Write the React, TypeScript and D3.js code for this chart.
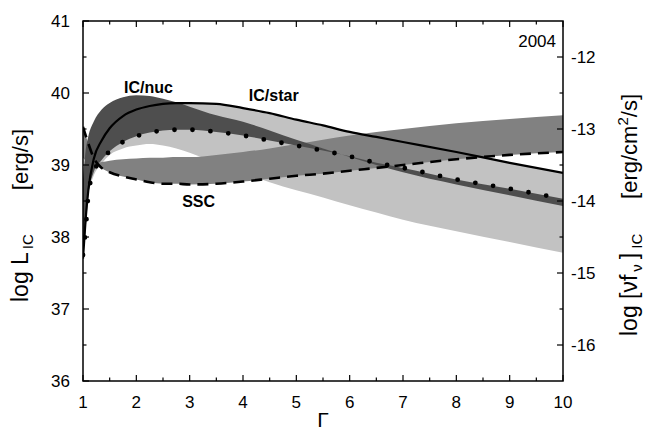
import React from "react";
import * as d3 from "d3";

// Lorentz factor grid
const gamma = [1, 1.05, 1.1, 1.2, 1.35, 1.5, 1.75, 2, 2.25, 2.5, 2.75, 3, 3.5, 4, 4.5, 5, 5.5, 6, 6.5, 7, 8, 9, 10];

// IC/star band (light): upper edge = solid line
const icStarLine = [37.7, 38.25, 38.65, 39.08, 39.34, 39.51, 39.68, 39.77, 39.82, 39.85, 39.86, 39.86, 39.85, 39.79, 39.72, 39.63, 39.55, 39.46, 39.39, 39.32, 39.18, 39.03, 38.89];
const icStarEdge = [38.2, 38.45, 38.62, 38.85, 39.02, 39.14, 39.23, 39.27, 39.29, 39.27, 39.23, 39.17, 39.03, 38.9, 38.76, 38.65, 38.55, 38.44, 38.34, 38.24, 38.08, 37.93, 37.78];

// SSC band (medium): one edge = dashed line
const sscLine = [39.53, 39.41, 39.3, 39.1, 38.96, 38.9, 38.84, 38.8, 38.76, 38.74, 38.74, 38.73, 38.74, 38.77, 38.81, 38.85, 38.88, 38.92, 38.96, 39.0, 39.08, 39.14, 39.18];
const sscEdge = [39.1, 39.06, 39.03, 39.02, 39.04, 39.06, 39.08, 39.09, 39.1, 39.1, 39.11, 39.11, 39.14, 39.18, 39.23, 39.29, 39.35, 39.41, 39.46, 39.5, 39.58, 39.64, 39.69];

// IC/nuc band (dark): one edge = dotted line
const icNucLine = [37.75, 38.1, 38.58, 38.9, 39.07, 39.19, 39.32, 39.4, 39.45, 39.48, 39.49, 39.49, 39.46, 39.41, 39.34, 39.27, 39.2, 39.12, 39.03, 38.96, 38.8, 38.67, 38.53];
const icNucEdge = [38.8, 39.2, 39.4, 39.6, 39.77, 39.86, 39.94, 39.97, 39.96, 39.92, 39.87, 39.81, 39.69, 39.6, 39.48, 39.35, 39.23, 39.11, 39.0, 38.9, 38.73, 38.58, 38.43];

const xTicks = [1, 2, 3, 4, 5, 6, 7, 8, 9, 10];
const xMinor = [1.5, 2.5, 3.5, 4.5, 5.5, 6.5, 7.5, 8.5, 9.5];
const leftTicks = [36, 37, 38, 39, 40, 41];
const leftMinor = [36.5, 37.5, 38.5, 39.5, 40.5];
const rightTicks = [-12, -13, -14, -15, -16];
const rightMinor = [-12.5, -13.5, -14.5, -15.5];

const labels = [
  { text: "IC/nuc", g: 1.77, v: 40.0 },
  { text: "IC/star", g: 4.11, v: 39.89 },
  { text: "SSC", g: 2.86, v: 38.42 },
];

const W = 645;
const H = 430;
const M = { left: 83, right: 563, top: 21, bottom: 381 };
const FONT = "'Liberation Sans', Arial, Helvetica, sans-serif";

export default function App() {
  const x = d3.scaleLinear().domain([1, 10]).range([M.left, M.right]);
  const y = d3.scaleLinear().domain([36, 41]).range([M.bottom, M.top]);
  const yR = d3.scaleLinear().domain([-16.5, -11.5]).range([M.bottom, M.top]);

  const band = (a: number[], b: number[]) =>
    d3
      .area<number>()
      .x((g) => x(g))
      .y0((_, i) => y(a[i]))
      .y1((_, i) => y(b[i]))
      .curve(d3.curveMonotoneX)(gamma) as string;

  const line = (a: number[]) =>
    d3
      .line<number>()
      .x((g) => x(g))
      .y((_, i) => y(a[i]))
      .curve(d3.curveMonotoneX)(gamma) as string;

  const major = 6;
  const minor = 3.5;
  const tickStyle = { stroke: "#000", strokeWidth: 1.2 };

  return (
    <svg
      width={W}
      height={H}
      style={{ position: "absolute", left: 0, top: 0, background: "#fff" }}
      fontFamily={FONT}
    >
      <defs>
        <clipPath id="plot">
          <rect x={M.left} y={M.top} width={M.right - M.left} height={M.bottom - M.top} />
        </clipPath>
      </defs>
      <g clipPath="url(#plot)">
        <path d={band(icStarLine, icStarEdge)} fill="#c2c2c2" />
        <path d={band(sscLine, sscEdge)} fill="#818181" />
        <path d={band(icNucLine, icNucEdge)} fill="#4e4e4e" />
        <path d={line(icStarLine)} fill="none" stroke="#000" strokeWidth={2.2} />
        <path
          d={line(sscLine)}
          fill="none"
          stroke="#000"
          strokeWidth={2.6}
          strokeDasharray="11 7"
        />
        <path
          d={line(icNucLine)}
          fill="none"
          stroke="#000"
          strokeWidth={4.8}
          strokeLinecap="round"
          strokeDasharray="0 18"
        />
      </g>

      {/* frame */}
      <rect
        x={M.left}
        y={M.top}
        width={M.right - M.left}
        height={M.bottom - M.top}
        fill="none"
        stroke="#000"
        strokeWidth={1.5}
      />

      {/* x ticks bottom & top */}
      {xTicks.map((t) => (
        <g key={"xt" + t}>
          <line x1={x(t)} x2={x(t)} y1={M.bottom} y2={M.bottom - major} {...tickStyle} />
          <line x1={x(t)} x2={x(t)} y1={M.top} y2={M.top + major} {...tickStyle} />
          <text x={x(t)} y={M.bottom + 27} textAnchor="middle" fontSize={17}>
            {t}
          </text>
        </g>
      ))}
      {xMinor.map((t) => (
        <g key={"xm" + t}>
          <line x1={x(t)} x2={x(t)} y1={M.bottom} y2={M.bottom - minor} {...tickStyle} />
          <line x1={x(t)} x2={x(t)} y1={M.top} y2={M.top + minor} {...tickStyle} />
        </g>
      ))}

      {/* left axis */}
      {leftTicks.map((t) => (
        <g key={"lt" + t}>
          <line x1={M.left} x2={M.left + major} y1={y(t)} y2={y(t)} {...tickStyle} />
          <text x={M.left - 13} y={y(t) + 6} textAnchor="end" fontSize={17}>
            {t}
          </text>
        </g>
      ))}
      {leftMinor.map((t) => (
        <line key={"lm" + t} x1={M.left} x2={M.left + minor} y1={y(t)} y2={y(t)} {...tickStyle} />
      ))}

      {/* right axis */}
      {rightTicks.map((t) => (
        <g key={"rt" + t}>
          <line x1={M.right} x2={M.right - major} y1={yR(t)} y2={yR(t)} {...tickStyle} />
          <text x={M.right + 8} y={yR(t) + 6} textAnchor="start" fontSize={17}>
            {t}
          </text>
        </g>
      ))}
      {rightMinor.map((t) => (
        <line key={"rm" + t} x1={M.right} x2={M.right - minor} y1={yR(t)} y2={yR(t)} {...tickStyle} />
      ))}

      {/* curve labels */}
      {labels.map((l) => (
        <text key={l.text} x={x(l.g)} y={y(l.v)} fontSize={16} fontWeight="bold">
          {l.text}
        </text>
      ))}

      <text x={556} y={47} textAnchor="end" fontSize={17}>
        2004
      </text>

      {/* x title */}
      <text x={(M.left + M.right) / 2} y={427} textAnchor="middle" fontSize={21}>
        Γ
      </text>

      {/* left title */}
      <text transform="translate(28, 302) rotate(-90)" textAnchor="start" fontSize={23}>
        <tspan>log L</tspan>
        <tspan fontSize={15} dx={3} dy={5}>IC</tspan>
        <tspan fontSize={22} dx={44} dy={-5}>[erg/s]</tspan>
      </text>

      {/* right title */}
      <text transform="translate(637, 336) rotate(-90)" textAnchor="start" fontSize={23}>
        <tspan>log [νf</tspan>
        <tspan fontSize={15} dx={3} dy={5}>ν</tspan>
        <tspan dx={5} dy={-5}>]</tspan>
        <tspan fontSize={15} dx={4} dy={5}>IC</tspan>
      </text>
      <text transform="translate(637, 94) rotate(-90)" textAnchor="end" fontSize={22}>
        <tspan>[erg/cm</tspan>
        <tspan fontSize={15} dy={-9}>2</tspan>
        <tspan dy={9}>/s]</tspan>
      </text>
    </svg>
  );
}
